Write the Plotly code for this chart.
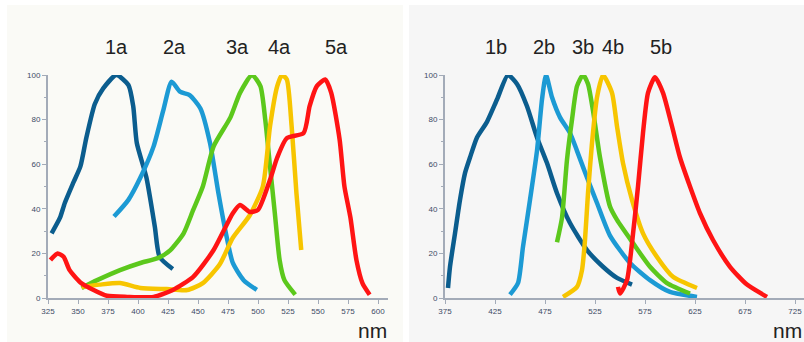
import plotly.graph_objects as go

# absorption spectra (left panel)
x1a = [328, 335, 339, 346, 352, 357, 364, 371, 382, 392, 396, 399, 407, 414, 418, 429]
y1a = [29, 36, 42.6, 51.6, 59, 72, 87, 94, 100, 95.5, 86, 69.5, 54, 32, 18.4, 13]
x2a = [380, 392, 402, 413, 421, 428, 435, 443, 452, 460, 467, 474, 479, 488, 499]
y2a = [36.5, 44, 54, 68, 84, 97, 92.5, 91, 85, 69.5, 47, 27, 15.7, 8, 3.6]
x3a = [353, 366, 385, 402, 417, 427, 438, 446, 454, 463, 477, 485, 495, 502, 506, 510, 514, 518, 522, 531]
y3a = [4.5, 8, 12.5, 15.7, 18, 21.5, 29, 39.5, 50, 68, 81, 92, 100, 95, 80, 59, 38, 17, 8, 1.5]
x4a = [353, 368, 385, 402, 424, 441, 454, 468, 479, 493, 504, 510, 516, 520, 524, 528, 532, 536]
y4a = [5, 6, 6.7, 4.5, 4, 3.6, 6.7, 15, 27, 37, 50, 77, 95, 100, 98, 77, 47, 21.5]
x5a = [327, 333, 338, 343, 352, 363, 374, 391, 413, 429, 446, 463, 479, 485, 493, 500, 510, 516, 524,
       538, 543, 549, 556, 561, 568, 572, 577, 582, 587, 593]
y5a = [17, 20, 18.5, 12.5, 7, 3.6, 1, 0.5, 0.5, 3.6, 9.5, 21.5, 38, 41.7, 38.6, 39.5, 53, 63, 71.7,
       74, 86, 95, 98, 92, 71, 50, 36, 17, 6.7, 1.5]

# emission spectra (right panel)
x1b = [378, 380, 385, 390, 395, 400, 407, 417, 427, 438, 447, 457, 467, 477, 487, 500, 517, 533, 547, 562]
y1b = [4.5, 14, 29, 44, 56, 63, 72, 79, 89, 100, 96, 86, 72, 60.5, 47, 33.6, 21.5, 14, 9, 6]
x2b = [440, 448, 453, 460, 467, 472, 476, 482, 490, 500, 507, 517, 527, 540, 560, 580, 600, 627]
y2b = [1.5, 6.7, 23, 44, 66, 89, 100, 90, 81, 74, 66, 54, 42.6, 28, 15.7, 8, 2.7, 0.5]
x3b = [487, 492, 497, 502, 507, 513, 518, 523, 530, 540, 547, 563, 580, 597, 620]
y3b = [25, 36, 62, 80, 95, 100, 96, 84, 63, 41, 35, 24.6, 14, 6.7, 2]
x4b = [493, 507, 512, 515, 518, 522, 527, 533, 542, 547, 553, 562, 573, 587, 603, 627]
y4b = [0.5, 5, 12.5, 26, 47, 69.5, 90, 100, 92, 77, 60.5, 44, 29, 18.4, 9.5, 4.5]
x5b = [548, 550, 557, 562, 568, 573, 578, 585, 593, 602, 610, 620, 630, 643, 660, 677, 697]
y5b = [5, 2, 8, 24.6, 50, 74, 92, 99, 92, 77, 63, 50, 38, 26, 14, 6, 0.5]

names_a = ['1a', '2a', '3a', '4a', '5a']
names_b = ['1b', '2b', '3b', '4b', '5b']
label_x_a = [382, 430, 483, 518, 565]
label_x_b = [426, 474, 513, 543, 591]
colors = ['#0b5d8e', '#1c9ad4', '#5cc81c', '#f7c500', '#ff1414']

left_ticks = list(range(325, 601, 25))
right_ticks = list(range(375, 726, 50))
y_ticks = [0, 20, 40, 60, 80, 100]

fig = go.Figure()

series_a = [(x1a, y1a), (x2a, y2a), (x3a, y3a), (x4a, y4a), (x5a, y5a)]
series_b = [(x1b, y1b), (x2b, y2b), (x3b, y3b), (x4b, y4b), (x5b, y5b)]

for (xs, ys), name, c in zip(series_a, names_a, colors):
    fig.add_trace(go.Scatter(x=xs, y=ys, name=name, mode='lines', xaxis='x', yaxis='y',
                             line=dict(color=c, width=4.5, shape='spline', smoothing=0.6)))
for (xs, ys), name, c in zip(series_b, names_b, colors):
    fig.add_trace(go.Scatter(x=xs, y=ys, name=name, mode='lines', xaxis='x2', yaxis='y2',
                             line=dict(color=c, width=4.5, shape='spline', smoothing=0.6)))

tickfont = dict(family='Liberation Sans Narrow, Arial Narrow, sans-serif', size=8, color='#3e4b66')
ax = dict(showline=True, linecolor='#a3abb8', linewidth=2, ticks='outside', ticklen=4,
          tickcolor='#a3abb8', tickfont=tickfont, showgrid=False, zeroline=False,
          automargin=False)

label_font = dict(family='Liberation Sans Narrow, Arial Narrow, sans-serif', size=20, color='#222222')
annotations = []
for lx, t in zip(label_x_a, names_a):
    annotations.append(dict(x=lx, xref='x', y=(342 - 47) / 342, yref='paper', text=t,
                            showarrow=False, yanchor='middle', font=label_font))
for lx, t in zip(label_x_b, names_b):
    annotations.append(dict(x=lx, xref='x2', y=(342 - 47) / 342, yref='paper', text=t,
                            showarrow=False, yanchor='middle', font=label_font))
nm_font = dict(family='Liberation Sans, Arial, sans-serif', size=21, color='#222222')
annotations.append(dict(x=372 / 804, xref='paper', y=(342 - 330) / 342, yref='paper', text='nm',
                        showarrow=False, xanchor='center', yanchor='middle', font=nm_font))
annotations.append(dict(x=1.0, xref='paper', y=(342 - 330) / 342, yref='paper', text='nm',
                        showarrow=False, xanchor='right', yanchor='middle', font=nm_font))

shapes = [
    dict(type='rect', xref='paper', yref='paper', x0=7 / 804, x1=403 / 804, y0=0, y1=337 / 342,
         fillcolor='#fafaf6', line=dict(width=0), layer='below'),
    dict(type='rect', xref='paper', yref='paper', x0=409 / 804, x1=1, y0=0, y1=337 / 342,
         fillcolor='#f6f6f6', line=dict(width=0), layer='below'),
]

fig.update_layout(
    width=804, height=342,
    margin=dict(l=0, r=0, t=0, b=0),
    paper_bgcolor='white', plot_bgcolor='rgba(0,0,0,0)',
    showlegend=False,
    hovermode=False,
    xaxis=dict(ax, domain=[48 / 804, 388 / 804], range=[325, 608.3], tickvals=left_ticks,
               anchor='y'),
    yaxis=dict(ax, domain=[44 / 342, 267 / 342], range=[0, 100], tickvals=y_ticks, anchor='x',
               minor=dict(dtick=10, ticks='outside', ticklen=2, tickcolor='#a3abb8')),
    xaxis2=dict(ax, domain=[445 / 804, 1.0], range=[375, 734], tickvals=right_ticks,
                anchor='y2'),
    yaxis2=dict(ax, domain=[44 / 342, 267 / 342], range=[0, 100], tickvals=y_ticks, anchor='x2',
                minor=dict(dtick=10, ticks='outside', ticklen=2, tickcolor='#a3abb8')),
    annotations=annotations,
    shapes=shapes,
)

# drop the default page margin so the figure sits at the window corner
fig.write_html('out.html', config={'displayModeBar': False},
               post_script="document.body.style.margin='0';")
